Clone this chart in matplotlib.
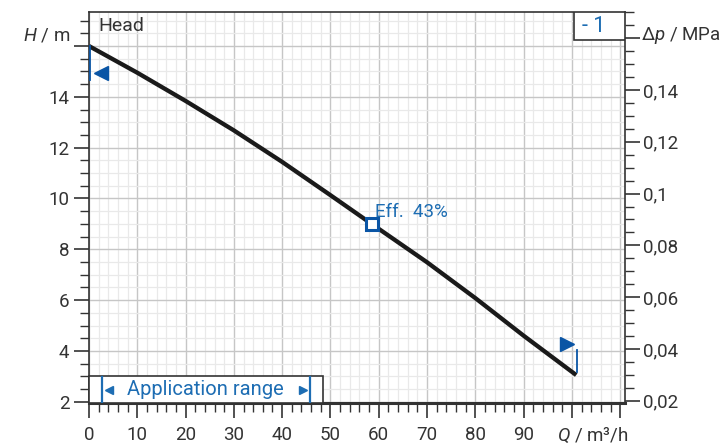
import numpy as np
import matplotlib
matplotlib.use('Agg')
import matplotlib.pyplot as plt
from matplotlib.patches import Rectangle
from matplotlib.ticker import MultipleLocator, FixedLocator

plt.rcParams['font.family'] = ['Roboto', 'DejaVu Sans']
plt.rcParams['mathtext.fontset'] = 'custom'
plt.rcParams['mathtext.rm'] = 'Roboto'
plt.rcParams['mathtext.it'] = 'Roboto:italic'

# ── data ─────────────────────────────────────────────────────
q_head = [0, 10, 20, 30, 40, 50, 58.6, 70, 80, 90, 100.9]          # m3/h
h_head = [16.0, 14.95, 13.84, 12.68, 11.44, 10.13, 8.99, 7.49, 6.08, 4.6, 3.05]  # m

q_eff, h_eff = 58.6, 8.99
eff_label = "Eff.  43%"

x_ticks = [0, 10, 20, 30, 40, 50, 60, 70, 80, 90, 100, 110]
x_labels = ['0', '10', '20', '30', '40', '50', '60', '70', '80', '90', '', '']
y_ticks = [2, 4, 6, 8, 10, 12, 14, 16]
y_labels = ['2', '4', '6', '8', '10', '12', '14', '']
p_ticks = [0.02, 0.04, 0.06, 0.08, 0.10, 0.12, 0.14, 0.16]
p_labels = ['0,02', '0,04', '0,06', '0,08', '0,1', '0,12', '0,14', '']

M_PER_MPA = 1 / 0.00981

TXT = '#333333'
BLUE = '#1d6db3'
DBLUE = '#0a55a5'

fig = plt.figure(figsize=(7.25, 4.45), dpi=100)
ax = fig.add_axes([89 / 725, 1 - 403 / 445, 536 / 725, 391 / 445])

ax.set_xlim(0, 111)
ax.set_ylim(1.95, 17.34)

# grid
ax.xaxis.set_major_locator(FixedLocator(x_ticks))
ax.xaxis.set_minor_locator(MultipleLocator(2))
ax.yaxis.set_major_locator(FixedLocator(y_ticks))
ax.yaxis.set_minor_locator(MultipleLocator(0.5))
ax.set_xticklabels(x_labels)
ax.set_yticklabels(y_labels)
ax.grid(which='minor', color='#e9e9e9', lw=0.9)
ax.grid(which='major', color='#c6c6c6', lw=1.0)
ax.set_axisbelow(True)

ax.tick_params(which='major', direction='out', length=11, width=1.2,
               color=TXT, labelcolor=TXT, labelsize=13.5)
ax.tick_params(which='minor', direction='out', length=6.5, width=1.0, color=TXT)
ax.tick_params(axis='x', which='major', pad=5.5)
ax.tick_params(axis='y', which='major', pad=3)
ax.tick_params(top=False, right=False)

for s in ax.spines.values():
    s.set_color(TXT)
    s.set_linewidth(1.2)
ax.spines['bottom'].set_linewidth(2.2)

# right axis in MPa
ax2 = ax.twinx()
ax2.set_ylim(1.95 / M_PER_MPA, 17.34 / M_PER_MPA)
ax2.yaxis.set_major_locator(FixedLocator(p_ticks))
ax2.yaxis.set_minor_locator(MultipleLocator(0.005))
ax2.set_yticklabels(p_labels)
ax2.tick_params(which='major', direction='out', length=11, width=1.2,
                color=TXT, labelcolor=TXT, labelsize=13.5, pad=2)
ax2.tick_params(which='minor', direction='out', length=6.5, width=1.0, color=TXT)
for s in ax2.spines.values():
    s.set_visible(False)

# head curve
ax.plot(q_head, h_head, color='#1a1a1a', lw=3.1, solid_capstyle='butt',
        solid_joinstyle='round', zorder=5)

# efficiency point
ax.plot(q_eff, h_eff, marker='s', ms=8, mfc='white', mec=DBLUE, mew=2.2,
        zorder=6)
ax.text(q_eff + 0.6, h_eff + 0.47, eff_label, color=BLUE, fontsize=13.5,
        va='center', ha='left', zorder=7)

# operating range flags on the curve
ax.plot([0.2, 0.2], [16.0, 14.66], color=DBLUE, lw=1.3, zorder=6)
ax.plot(2.5, 14.94, marker='<', ms=10, color=DBLUE, zorder=6)
ax.plot([101.1, 101.1], [3.17, 4.03], color=DBLUE, lw=1.3, zorder=6)
ax.plot(99.0, 4.28, marker='>', ms=10, color=DBLUE, zorder=6)

# "Head" label
ax.text(1.9, 17.34 - 14 / 25.41, 'Head', color=TXT, fontsize=14,
        ha='left', va='center')

# "- 1" box
ax.add_patch(Rectangle((0.904, 0.928), 0.096, 0.072, transform=ax.transAxes,
                       facecolor='white', edgecolor=TXT, lw=1.2, zorder=8))
ax.text(0.942, 0.962, '- 1', transform=ax.transAxes, color=BLUE,
        fontsize=15.5, ha='center', va='center', zorder=9)

# application range box
ax.add_patch(Rectangle((0, 1.95), 48.5, 1.06, facecolor='white',
                       edgecolor=TXT, lw=1.2, zorder=8, clip_on=False))
ax.plot([2.7, 2.7], [2.0, 2.97], color=BLUE, lw=1.6, zorder=9)
ax.plot([45.8, 45.8], [2.0, 2.97], color=BLUE, lw=1.6, zorder=9)
ax.text(24.2, 2.48, 'Application range', color=BLUE, fontsize=14.5,
        ha='center', va='center', zorder=9)
ax.plot(4.1, 2.48, marker='<', ms=6, color=BLUE, zorder=9)
ax.plot(44.3, 2.48, marker='>', ms=6, color=BLUE, zorder=9)

# axis titles placed where the top / last tick labels would be
fig.text(70 / 725, 1 - 35 / 445, r'$H$ / m', color=TXT, fontsize=13.5,
         ha='right', va='center')
fig.text(641 / 725, 1 - 35 / 445, r'$\mathit{\Delta p}$ / MPa', color=TXT,
         fontsize=13.5, ha='left', va='center')
fig.text(629 / 725, 1 - 435 / 445, r'$Q$ / m³/h', color=TXT, fontsize=13.5,
         ha='right', va='center')

fig.savefig('out.png', dpi=100)
